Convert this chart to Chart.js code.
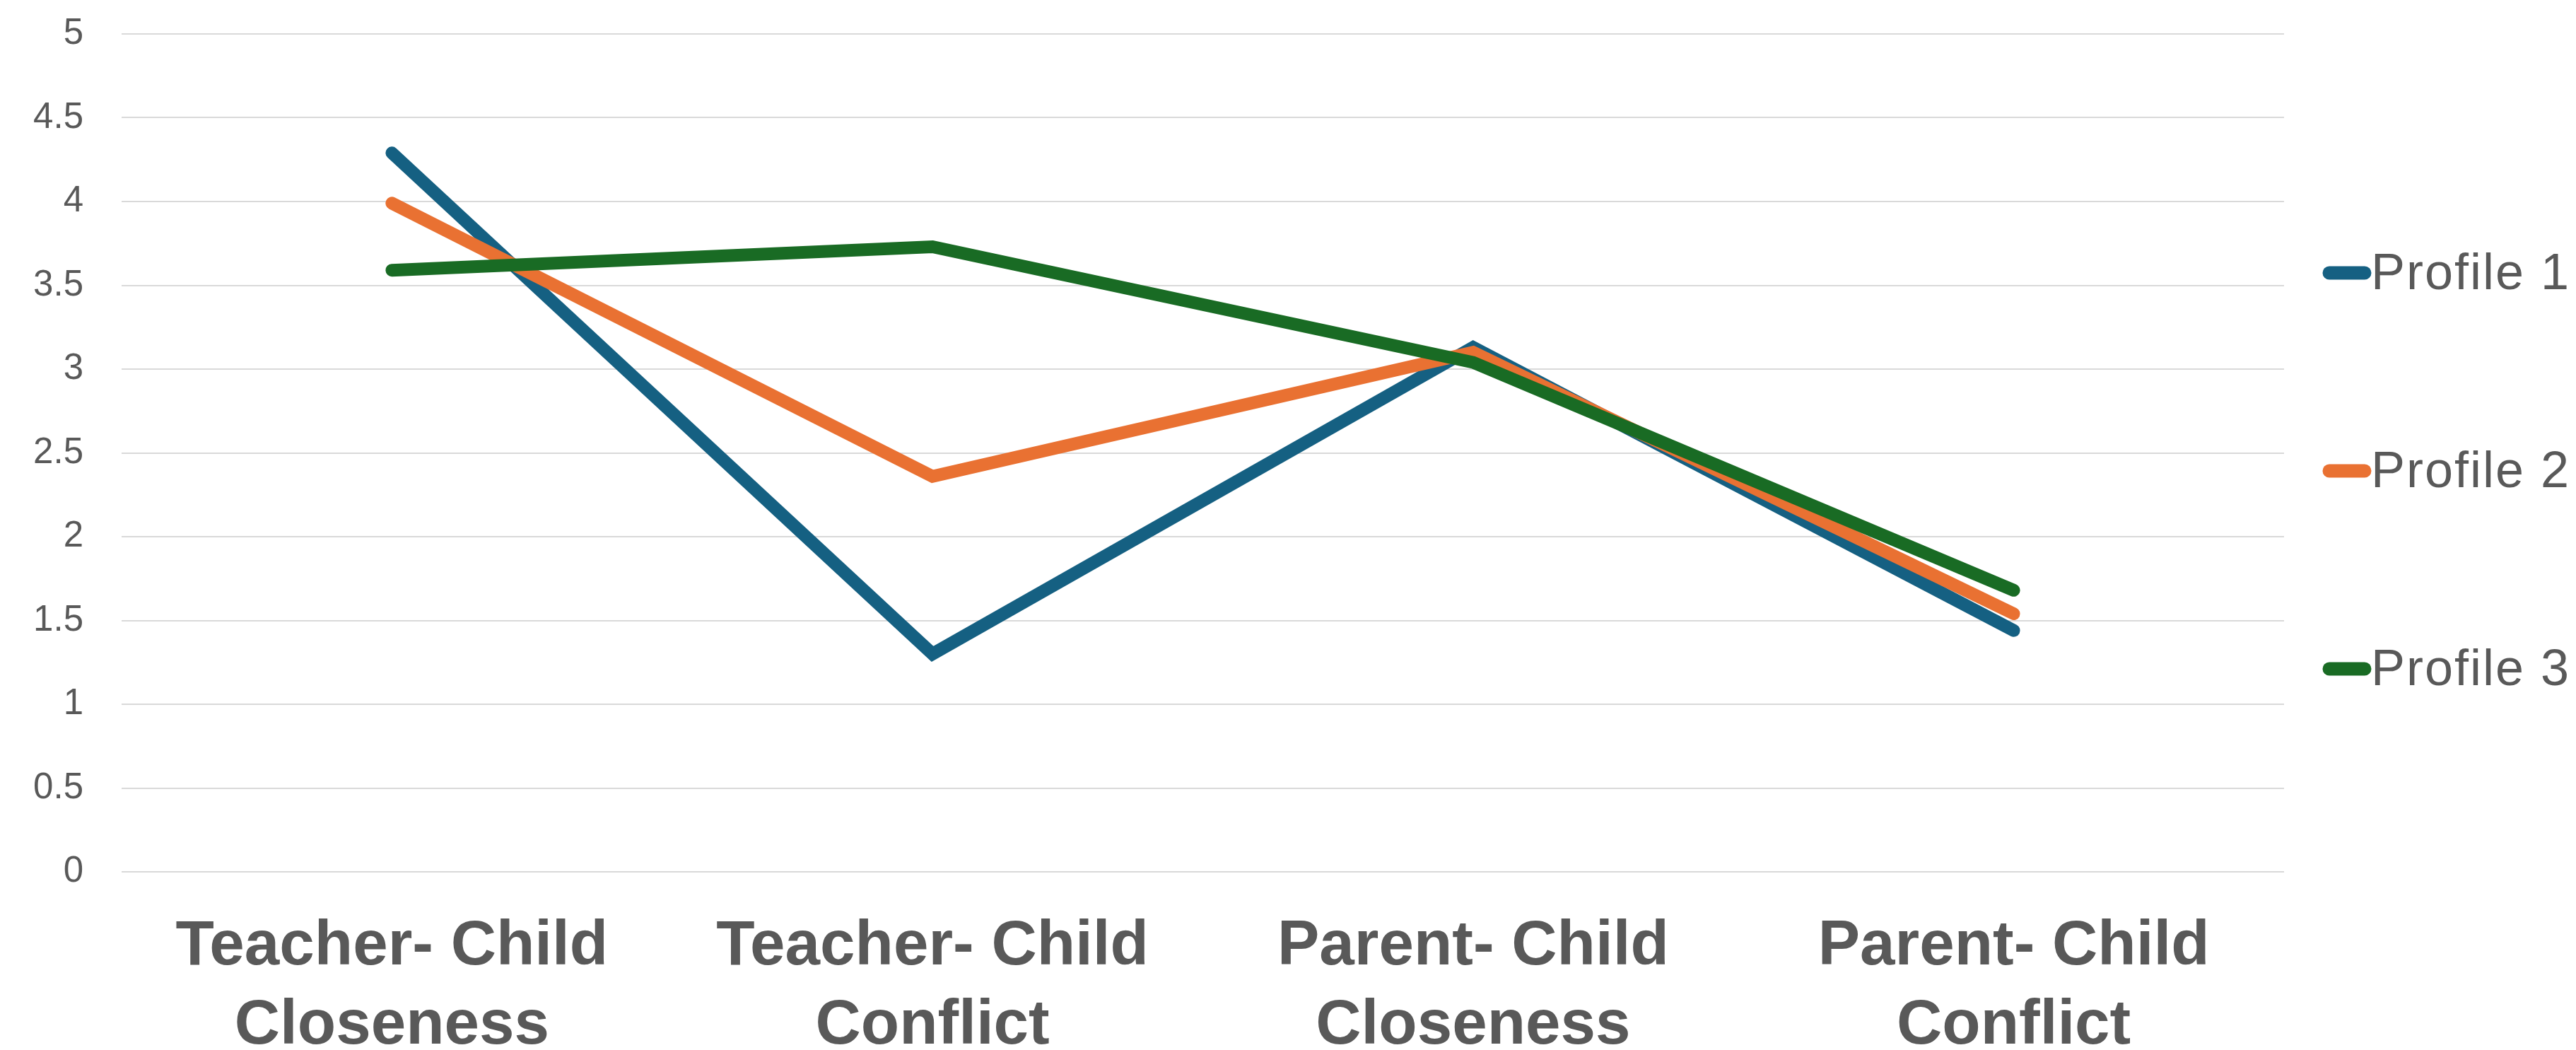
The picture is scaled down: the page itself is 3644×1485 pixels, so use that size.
<!DOCTYPE html>
<html>
<head>
<meta charset="utf-8">
<script src="https://cdn.jsdelivr.net/npm/chart.js@4.4.1/dist/chart.umd.min.js"></script>
<style>
  html, body { margin: 0; padding: 0; background: #fff; }
  #wrap { width: 3644px; height: 1485px; }
</style>
</head>
<body>
<div id="wrap"><canvas id="myChart"></canvas></div>
<script>
// categories (two lines each, as in the picture)
var categories = [
    ['Teacher- Child', 'Closeness'],
    ['Teacher- Child', 'Conflict'],
    ['Parent- Child', 'Closeness'],
    ['Parent- Child', 'Conflict']
];

var seriesNames = ['Profile 1', 'Profile 2', 'Profile 3'];
var seriesColors = ['#156082', '#E97132', '#196B24'];

var profile1 = [4.29, 1.30, 3.13, 1.44];
var profile2 = [3.99, 2.36, 3.10, 1.54];
var profile3 = [3.59, 3.73, 3.04, 1.68];

var yTicks = [0, 0.5, 1, 1.5, 2, 2.5, 3, 3.5, 4, 4.5, 5];

var textColor = '#595959';
var gridColor = '#D9D9D9';

//Легенда справа
var sideLegend = {
    id: 'sideLegend',
    afterDraw: function(chart) {
        var ctx = chart.ctx;
        var area = chart.chartArea;
        ctx.save();
        chart.data.datasets.forEach(function(ds, i) {
            var cy = 386 + i * 280;
            var x0 = area.right + 64;
            ctx.beginPath();
            ctx.strokeStyle = ds.borderColor;
            ctx.lineWidth = 19;
            ctx.lineCap = 'round';
            ctx.moveTo(x0, cy);
            ctx.lineTo(x0 + 50, cy);
            ctx.stroke();

            ctx.fillStyle = textColor;
            ctx.font = '72px "Liberation Sans", Arial, sans-serif';
            ctx.letterSpacing = '2px';
            ctx.textBaseline = 'alphabetic';
            ctx.textAlign = 'left';
            ctx.fillText(ds.label, area.right + 123, cy + 23);
        });
        ctx.restore();
    }
};

var data = [profile1, profile2, profile3];

new Chart(document.getElementById('myChart').getContext('2d'), {
    type: 'line',
    data: {
        labels: categories,
        datasets: data.map(function(vals, i) {
            return {
                label: seriesNames[i],
                data: vals,
                borderColor: seriesColors[i],
                backgroundColor: seriesColors[i],
                borderWidth: 18,
                borderCapStyle: 'round',
                borderJoinStyle: 'miter',
                pointRadius: 0,
                pointHoverRadius: 0,
                tension: 0,
                fill: false,
                order: 3 - i
            };
        })
    },
    options: {
        responsive: true,
        maintainAspectRatio: false,
        animation: false,
        devicePixelRatio: 1,
        layout: { padding: { top: 48, right: 413, left: 0, bottom: 0 } },
        plugins: {
            legend: { display: false },
            tooltip: { enabled: false }
        },
        scales: {
            x: {
                offset: true,
                grid: { display: false, drawTicks: false },
                border: { display: false },
                ticks: {
                    color: textColor,
                    padding: 50,
                    maxRotation: 0,
                    autoSkip: false,
                    font: { family: '"Liberation Sans", Arial, sans-serif', size: 89, weight: 'bold', lineHeight: 1.26 }
                },
                afterFit: function(scale) { scale.height = 252; }
            },
            y: {
                min: 0,
                max: 5,
                afterBuildTicks: function(scale) {
                    scale.ticks = yTicks.map(function(v) { return { value: v }; });
                },
                grid: { color: gridColor, lineWidth: 2, drawTicks: false },
                border: { display: false },
                ticks: {
                    color: textColor,
                    padding: 54,
                    callback: function(value) { return String(value); },
                    font: { family: '"Liberation Sans", Arial, sans-serif', size: 51 }
                },
                afterFit: function(scale) {
                    scale.width = 172;
                    scale.paddingTop = 0;
                    scale.paddingBottom = 0;
                }
            }
        }
    },
    plugins: [sideLegend]
});
</script>
</body>
</html>
